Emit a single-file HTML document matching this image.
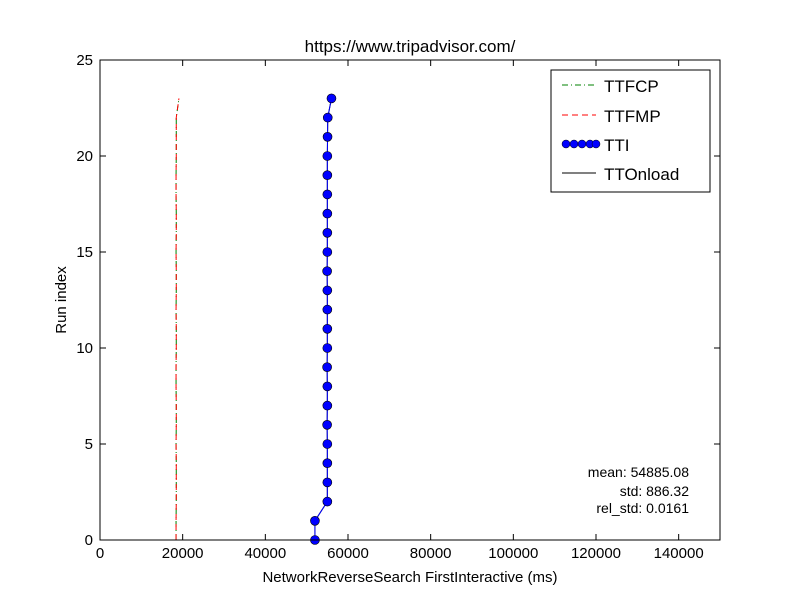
<!DOCTYPE html>
<html><head><meta charset="utf-8"><style>
body{margin:0;background:#fff;font-family:"Liberation Sans",sans-serif}
text{font-family:"Liberation Sans",sans-serif}
</style></head><body>
<svg id="chart" width="800" height="600" xmlns="http://www.w3.org/2000/svg">
<rect width="800" height="600" fill="#fff"/>
<text x="410" y="52" font-size="17" text-anchor="middle">https://www.tripadvisor.com/</text>
<g id="axes"></g>
<g id="series"></g>
<rect x="100" y="60" width="620" height="480" fill="none" stroke="#000" stroke-width="1"/>
<g>
<rect x="551" y="70" width="159" height="122" fill="#fff" stroke="#000"/>
<line x1="562" y1="85" x2="596" y2="85" stroke="green" stroke-dasharray="6,3,1,3"/>
<text x="604" y="92" font-size="17">TTFCP</text>
<line x1="562" y1="115" x2="596" y2="115" stroke="red" stroke-dasharray="6,4"/>
<text x="604" y="122" font-size="17">TTFMP</text>
<line x1="562" y1="144" x2="596" y2="144" stroke="blue"/>
<circle cx="566" cy="144" r="4" fill="blue" stroke="#000" stroke-width="0.5"/><circle cx="574" cy="144" r="4" fill="blue" stroke="#000" stroke-width="0.5"/><circle cx="582" cy="144" r="4" fill="blue" stroke="#000" stroke-width="0.5"/><circle cx="590" cy="144" r="4" fill="blue" stroke="#000" stroke-width="0.5"/><circle cx="596" cy="144" r="4" fill="blue" stroke="#000" stroke-width="0.5"/>
<text x="604" y="151" font-size="17">TTI</text>
<line x1="562" y1="173" x2="596" y2="173" stroke="#000"/>
<text x="604" y="180" font-size="17">TTOnload</text>
</g>
<g font-size="14" text-anchor="end">
<text x="689" y="477">mean: 54885.08</text>
<text x="689" y="496">std: 886.32</text>
<text x="689" y="513">rel_std: 0.0161</text>
</g>
<text x="410" y="582" font-size="15" text-anchor="middle">NetworkReverseSearch FirstInteractive (ms)</text>
<text transform="translate(66,300) rotate(-90)" font-size="15" text-anchor="middle">Run index</text>
</svg>
<script>
const xTicks=[0,20000,40000,60000,80000,100000,120000,140000];
const yTicks=[0,5,10,15,20,25];
const ttfcp=[18400,18400,18450,18450,18450,18400,18450,18450,18400,18400,18450,18450,18400,18450,18450,18400,18450,18450,18400,18400,18450,18450,18450,19100];
const ttfmp=[18400,18400,18450,18450,18450,18400,18450,18450,18400,18400,18450,18450,18400,18450,18450,18400,18450,18450,18400,18400,18450,18450,18450,19100];
const tti=[52000,52000,55000,55000,55000,55000,54950,55000,55000,54950,55000,55000,55000,55000,54950,55000,55000,55000,55000,55000,55000,55050,55100,56000];
const ttonload=tti.slice();
const NS="http://www.w3.org/2000/svg";
const X=v=>100+v/150000*620, Y=v=>540-v/25*480;
const ax=document.getElementById('axes'), sr=document.getElementById('series');
function mk(t,a,p){const e=document.createElementNS(NS,t);for(const k in a)e.setAttribute(k,a[k]);p.appendChild(e);return e;}
xTicks.forEach(v=>{
 const g=mk('g',{},ax);
 
 
 mk('line',{x1:X(v),x2:X(v),y1:540,y2:534,stroke:'#000'},g);
 mk('line',{x1:X(v),x2:X(v),y1:60,y2:66,stroke:'#000'},g);
 const t=mk('text',{x:X(v),y:558,'font-size':15,'text-anchor':'middle'},g);t.textContent=v;
});
yTicks.forEach(v=>{
 const g=mk('g',{},ax);
 
 
 mk('line',{x1:100,x2:106,y1:Y(v),y2:Y(v),stroke:'#000'},g);
 mk('line',{x1:720,x2:714,y1:Y(v),y2:Y(v),stroke:'#000'},g);
 const t=mk('text',{x:93,y:Y(v)+5,'font-size':15,'text-anchor':'end'},g);t.textContent=v;
});
function line(data,attrs,name){
 const p=mk('polyline',Object.assign({points:data.map((v,i)=>X(v)+','+Y(i)).join(' '),fill:'none'},attrs),sr);
 
 
}
line(ttonload,{stroke:'#000'},'ttonload-line');
line(ttfcp,{stroke:'green','stroke-dasharray':'6,3,1,3'},'ttfcp-line');
line(ttfmp,{stroke:'red','stroke-dasharray':'6,4'},'ttfmp-line');
line(tti,{stroke:'blue'},'tti-line');
tti.forEach((v,i)=>{
 const c=mk('circle',{cx:X(v),cy:Y(i),r:4.5,fill:'blue',stroke:'#000','stroke-width':0.6},sr);
 
 
});
</script>
</body></html>
